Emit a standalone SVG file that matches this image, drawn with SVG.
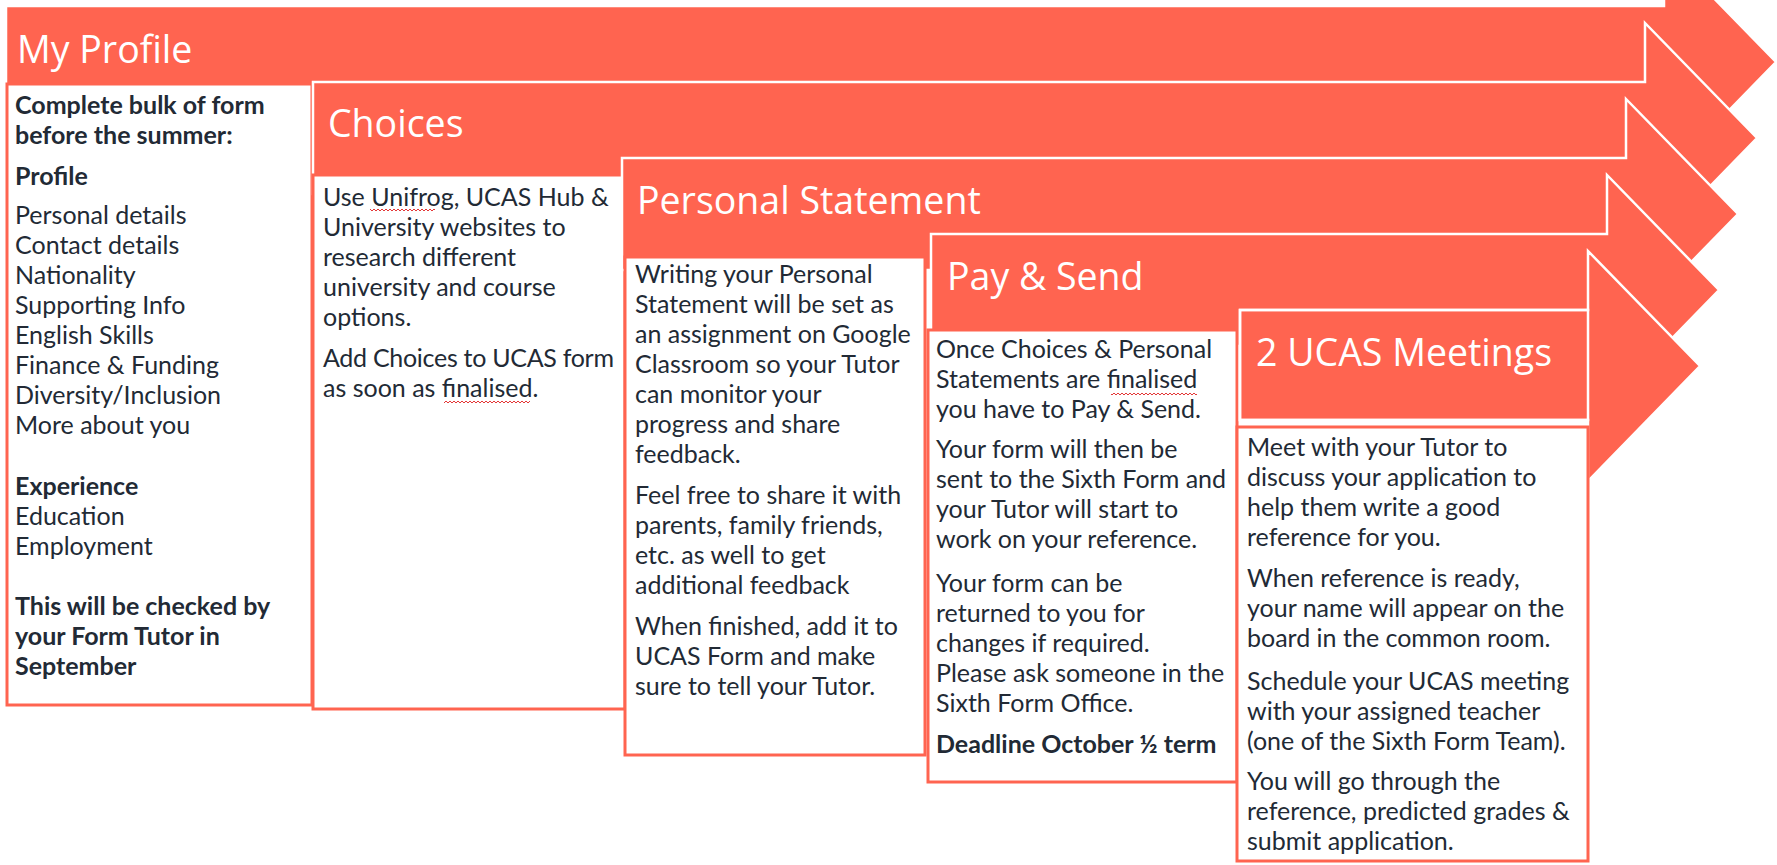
<svg xmlns="http://www.w3.org/2000/svg" width="1777" height="865" viewBox="0 0 1777 865">
<defs>
<style>
.arrow{fill:#FF6450;stroke:#ffffff;stroke-width:2.5;stroke-linejoin:miter}
.hdrbox{fill:none;stroke:#ffffff;stroke-width:2.5}
.hdr{font-family:'Open Sans','Liberation Sans',sans-serif;font-size:37.5px;fill:#ffffff}
.box{fill:#ffffff;stroke:#FF6450;stroke-width:3}
.t{font-family:Lato,'Liberation Sans',sans-serif;font-size:25px;fill:#222a35}
.b{font-weight:bold}
.sq{fill:url(#squiggle)}
</style>
<pattern id="squiggle" x="0" y="0" width="4" height="4" patternUnits="userSpaceOnUse">
<path d="M0,3 L2,1 L4,3" fill="none" stroke="#e02020" stroke-width="0.9"/>
</pattern>
</defs>
<rect width="1777" height="865" fill="#ffffff"/>

<g id="stage-my-profile">
<polygon class="arrow" points="6,6 1664,6 1664,-53 1776,62 1664,177 1664,118 6,118"/>
<text class="hdr" x="17" y="63">My Profile</text>
<rect class="box" x="7" y="84" width="305" height="621"/>
<text class="t">
<tspan class="b" x="15" y="114">Complete bulk of form</tspan>
<tspan class="b" x="15" y="144">before the summer:</tspan>
<tspan class="b" x="15" y="185">Profile</tspan>
<tspan x="15" y="224">Personal details</tspan>
<tspan x="15" y="254">Contact details</tspan>
<tspan x="15" y="284">Nationality</tspan>
<tspan x="15" y="314">Supporting Info</tspan>
<tspan x="15" y="344">English Skills</tspan>
<tspan x="15" y="374">Finance &amp; Funding</tspan>
<tspan x="15" y="404">Diversity/Inclusion</tspan>
<tspan x="15" y="434">More about you</tspan>
<tspan class="b" x="15" y="495">Experience</tspan>
<tspan x="15" y="525">Education</tspan>
<tspan x="15" y="555">Employment</tspan>
<tspan class="b" x="15" y="615">This will be checked by</tspan>
<tspan class="b" x="15" y="645">your Form Tutor in</tspan>
<tspan class="b" x="15" y="675">September</tspan>
</text>
</g>

<g id="stage-choices">
<polygon class="arrow" points="313,82 1645,82 1645,23 1757,138 1645,253 1645,194 313,194"/>
<text class="hdr" x="328" y="137">Choices</text>
<rect class="box" x="313" y="175" width="312" height="534"/>
<text class="t">
<tspan x="323" y="206">Use Unifrog, UCAS Hub &amp;</tspan>
<tspan x="323" y="236">University websites to</tspan>
<tspan x="323" y="266">research different</tspan>
<tspan x="323" y="296">university and course</tspan>
<tspan x="323" y="326">options.</tspan>
<tspan x="323" y="367" textLength="291">Add Choices to UCAS form</tspan>
<tspan x="323" y="397">as soon as finalised.</tspan>
</text>
<rect class="sq" x="370" y="209" width="65" height="4"/>
<rect class="sq" x="444" y="400" width="86" height="4"/>
</g>

<g id="stage-personal-statement">
<polygon class="arrow" points="622,158 1626,158 1626,99 1738,214 1626,329 1626,270 622,270"/>
<text class="hdr" x="637" y="214">Personal Statement</text>
<rect class="box" x="625" y="257" width="300" height="498"/>
<text class="t">
<tspan x="635" y="283">Writing your Personal</tspan>
<tspan x="635" y="313">Statement will be set as</tspan>
<tspan x="635" y="343">an assignment on Google</tspan>
<tspan x="635" y="373">Classroom so your Tutor</tspan>
<tspan x="635" y="403">can monitor your</tspan>
<tspan x="635" y="433">progress and share</tspan>
<tspan x="635" y="463">feedback.</tspan>
<tspan x="635" y="504">Feel free to share it with</tspan>
<tspan x="635" y="534">parents, family friends,</tspan>
<tspan x="635" y="564">etc. as well to get</tspan>
<tspan x="635" y="594">additional feedback</tspan>
<tspan x="635" y="635">When finished, add it to</tspan>
<tspan x="635" y="665">UCAS Form and make</tspan>
<tspan x="635" y="695">sure to tell your Tutor.</tspan>
</text>
</g>

<g id="stage-pay-send">
<polygon class="arrow" points="931,234 1607,234 1607,175 1719,290 1607,405 1607,346 931,346"/>
<text class="hdr" x="947" y="290">Pay &amp; Send</text>
<rect class="box" x="928" y="330" width="309" height="452"/>
<text class="t">
<tspan x="936" y="358">Once Choices &amp; Personal</tspan>
<tspan x="936" y="388">Statements are finalised</tspan>
<tspan x="936" y="418">you have to Pay &amp; Send.</tspan>
<tspan x="936" y="458">Your form will then be</tspan>
<tspan x="936" y="488">sent to the Sixth Form and</tspan>
<tspan x="936" y="518">your Tutor will start to</tspan>
<tspan x="936" y="548">work on your reference.</tspan>
<tspan x="936" y="592">Your form can be</tspan>
<tspan x="936" y="622">returned to you for</tspan>
<tspan x="936" y="652">changes if required.</tspan>
<tspan x="936" y="682">Please ask someone in the</tspan>
<tspan x="936" y="712">Sixth Form Office.</tspan>
<tspan class="b" x="936" y="753">Deadline October ½ term</tspan>
</text>
<rect class="sq" x="1111" y="391" width="86" height="4"/>
</g>

<g id="stage-ucas-meetings">
<polygon class="arrow" points="1240,310 1588,310 1588,251 1700,366 1588,481 1588,420 1240,420"/>
<rect class="hdrbox" x="1240" y="310" width="348" height="110"/>
<text class="hdr" x="1256" y="366">2 UCAS Meetings</text>
<rect class="box" x="1237" y="427" width="351" height="434"/>
<text class="t">
<tspan x="1247" y="456">Meet with your Tutor to</tspan>
<tspan x="1247" y="486">discuss your application to</tspan>
<tspan x="1247" y="516">help them write a good</tspan>
<tspan x="1247" y="546">reference for you.</tspan>
<tspan x="1247" y="587">When reference is ready,</tspan>
<tspan x="1247" y="617">your name will appear on the</tspan>
<tspan x="1247" y="647">board in the common room.</tspan>
<tspan x="1247" y="690">Schedule your UCAS meeting</tspan>
<tspan x="1247" y="720">with your assigned teacher</tspan>
<tspan x="1247" y="750">(one of the Sixth Form Team).</tspan>
<tspan x="1247" y="790">You will go through the</tspan>
<tspan x="1247" y="820">reference, predicted grades &amp;</tspan>
<tspan x="1247" y="850">submit application.</tspan>
</text>
</g>

<g id="connectors"></g>
</svg>
